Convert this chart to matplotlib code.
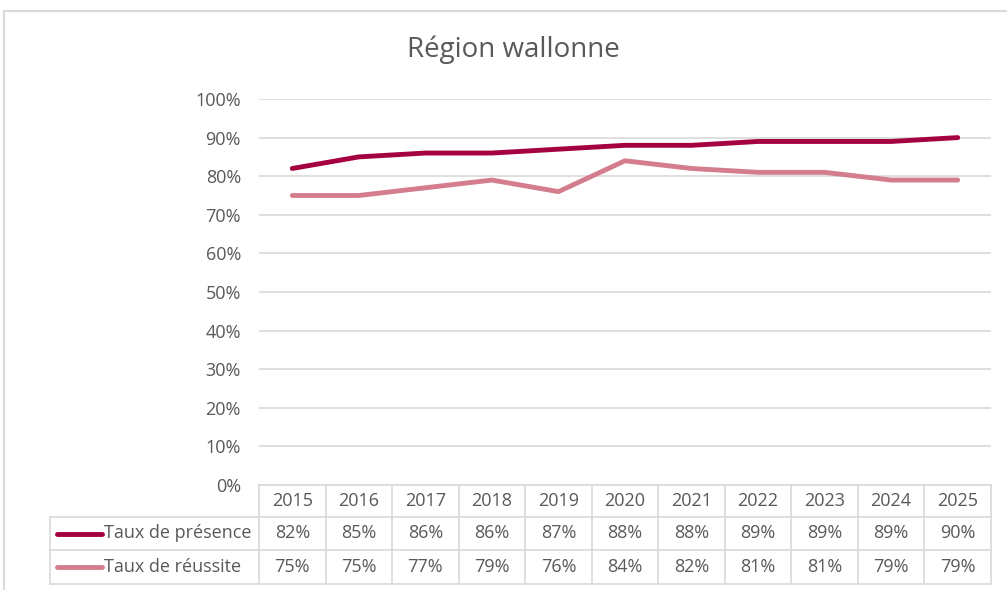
import matplotlib
matplotlib.use("Agg")
import matplotlib.pyplot as plt
from matplotlib.transforms import blended_transform_factory
from matplotlib.lines import Line2D

years = ["2015", "2016", "2017", "2018", "2019", "2020", "2021", "2022", "2023", "2024", "2025"]
presence = [82, 85, 86, 86, 87, 88, 88, 89, 89, 89, 90]
reussite = [75, 75, 77, 79, 76, 84, 82, 81, 81, 79, 79]
series_names = ["Taux de présence", "Taux de réussite"]
series_colors = ["#A5003F", "#D47D8C"]
yticks = [0, 10, 20, 30, 40, 50, 60, 70, 80, 90, 100]

FONT = "Open Sans"
TXT = "#595959"
GRID = "#D9D9D9"
FS = 13

W, H = 1007, 590
fig = plt.figure(figsize=(W / 100, H / 100), dpi=100)
fig.patch.set_facecolor("white")

# outer chart border
fig.add_artist(Line2D([4 / W, 4 / W], [0, 1 - 11 / H], color="#D9D9D9", lw=1.5))
fig.add_artist(Line2D([4 / W, 1], [1 - 11 / H, 1 - 11 / H], color="#D9D9D9", lw=1.5))

left, right = 259, 991
top, bottom = 99, 485
ax = fig.add_axes([left / W, 1 - bottom / H, (right - left) / W, (bottom - top) / H])
n = len(years)
x = list(range(n))
ax.set_xlim(-0.5, n - 0.5)
ax.set_ylim(0, 100)
ax.set_yticks(yticks)
ax.set_yticklabels([f"{v}%" for v in yticks], fontsize=FS, color=TXT, family=FONT)
ax.tick_params(axis="y", length=0, pad=13)
ax.set_xticks([])
for s in ax.spines.values():
    s.set_visible(False)
ax.grid(axis="y", color=GRID, lw=1.2)
ax.set_axisbelow(True)

for vals, col in zip([presence, reussite], series_colors):
    ax.plot(x, vals, color=col, lw=3.5, solid_capstyle="round", solid_joinstyle="round", zorder=3)

fig.text(513 / W, 1 - 50 / H, "Région wallonne", ha="center", va="center",
         fontsize=20, color=TXT, family=FONT)

# data table
tr = blended_transform_factory(ax.transData, ax.transAxes)
ah = bottom - top
row_edges_px = [485, 517, 550, 584]
row_edges = [-(p - bottom) / ah for p in row_edges_px]
lc = GRID
lw = 1.2
ax.plot([-0.5, n - 0.5], [row_edges[0]] * 2, transform=tr, color=lc, lw=lw, clip_on=False)
trf = blended_transform_factory(fig.transFigure, ax.transAxes)
for ye in row_edges[1:]:
    ax.plot([50 / W, right / W], [ye, ye], transform=trf, color=lc, lw=lw, clip_on=False)
for i in range(n + 1):
    ax.plot([i - 0.5, i - 0.5], [row_edges[0], row_edges[-1]], transform=tr, color=lc, lw=lw, clip_on=False)
ax.plot([50 / W, 50 / W], [row_edges[1], row_edges[-1]], transform=trf, color=lc, lw=lw, clip_on=False)

mids = [(row_edges[k] + row_edges[k + 1]) / 2 for k in range(3)]
for i, yr in enumerate(years):
    ax.text(i, mids[0], yr, transform=tr, ha="center", va="center", fontsize=FS, color=TXT, family=FONT)
for r, (vals, name, col) in enumerate(zip([presence, reussite], series_names, series_colors)):
    ym = mids[r + 1]
    for i, v in enumerate(vals):
        ax.text(i, ym, f"{v}%", transform=tr, ha="center", va="center", fontsize=FS, color=TXT, family=FONT)
    ax.plot([57 / W, 102 / W], [ym, ym], transform=trf, color=col, lw=3.5, solid_capstyle="round", clip_on=False)
    ax.text(104 / W, ym, name, transform=trf, ha="left", va="center", fontsize=FS, color=TXT, family=FONT)

fig.savefig("out.png", dpi=100)
